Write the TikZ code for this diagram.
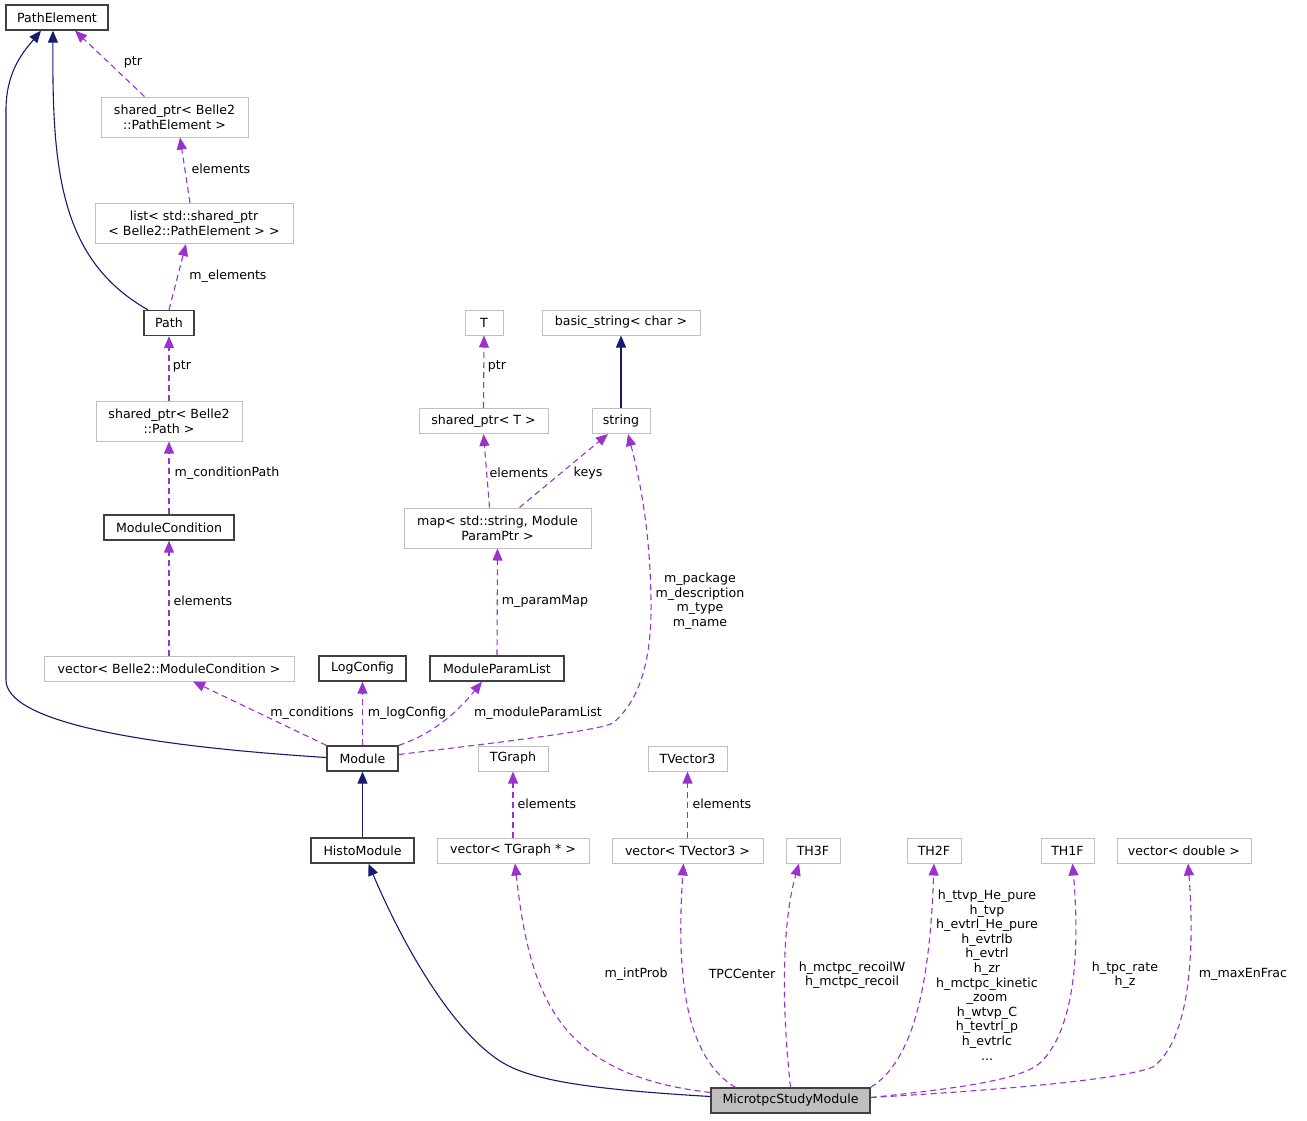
\documentclass[tikz,border=0pt]{standalone}
\usepackage{fontspec}
\setmainfont{DejaVu Sans}
\usetikzlibrary{arrows.meta}
\definecolor{navy}{HTML}{191970}
\definecolor{orch}{HTML}{9A32CD}
\definecolor{gbord}{HTML}{BFBFBF}
\definecolor{dbord}{HTML}{404040}
\begin{document}
\begin{tikzpicture}[x=1pt,y=-1pt,
  every node/.style={font=\fontsize{12.6}{14.6}\selectfont, inner sep=0pt, align=center},
  cls/.style={draw=gbord, line width=1pt, minimum height=25pt},
  clstwo/.style={draw=gbord, line width=1pt, minimum height=40pt},
  doc/.style={draw=dbord, line width=1.3pt, minimum height=25pt},
  inh/.style={draw=navy, line width=1.1pt, -{Triangle[length=12pt,width=10pt]}},
  use/.style={draw=orch, line width=1.1pt, dash pattern=on 6pt off 4pt, -{Triangle[length=12pt,width=10pt]}},
]
\useasboundingbox (0,0) rectangle (1307,1120);
% nodes
\node[doc, minimum width=102pt] (pe) at (57,17.5) {PathElement};
\node[clstwo, minimum width=147pt] (spe) at (174.5,117) {shared\_ptr< Belle2\\::PathElement >};
\node[clstwo, minimum width=198pt] (lst) at (194,223.5) {list< std::shared\_ptr\\< Belle2::PathElement > >};
\node[doc, minimum width=50pt] (path) at (169,323) {Path};
\node[clstwo, minimum width=146pt] (spp) at (169,421) {shared\_ptr< Belle2\\::Path >};
\node[doc, minimum width=130pt] (mc) at (169,527.5) {ModuleCondition};
\node[cls, minimum width=250pt] (vmc) at (169,668.5) {vector< Belle2::ModuleCondition >};
\node[doc, minimum width=87pt] (lc) at (362.5,668.5) {LogConfig};
\node[doc, minimum width=134pt] (mpl) at (497,668.5) {ModuleParamList};
\node[clstwo, minimum width=187pt] (map) at (497.5,528) {map< std::string, Module\\ParamPtr >};
\node[cls, minimum width=129pt] (spt) at (483.5,421) {shared\_ptr< T >};
\node[cls, minimum width=38pt] (T) at (484,322.5) {T};
\node[cls, minimum width=158pt] (bs) at (621,322.5) {basic\_string< char >};
\node[cls, minimum width=58pt] (str) at (621,421) {string};
\node[doc, minimum width=71pt] (mod) at (362.5,758.5) {Module};
\node[cls, minimum width=70pt] (tg) at (513,758.5) {TGraph};
\node[cls, minimum width=79pt] (tv) at (687.5,758.5) {TVector3};
\node[doc, minimum width=103pt] (hm) at (362.5,850.5) {HistoModule};
\node[cls, minimum width=152pt] (vtg) at (513,850.5) {vector< TGraph * >};
\node[cls, minimum width=151pt] (vtv) at (687.5,850.5) {vector< TVector3 >};
\node[cls, minimum width=54pt] (th3) at (813,850.5) {TH3F};
\node[cls, minimum width=54pt] (th2) at (934,850.5) {TH2F};
\node[cls, minimum width=53pt] (th1) at (1067.5,850.5) {TH1F};
\node[cls, minimum width=134pt] (vd) at (1184,850.5) {vector< double >};
\node[doc, fill=gbord, minimum width=159pt] (mic) at (790.5,1100.5) {MicrotpcStudyModule};
% inheritance
\draw[inh] ([xshift=-21pt]path.north) .. controls (60,260) and (52,170) .. ([xshift=-4pt]pe.south);
\draw[inh] ([yshift=1pt]mod.west) .. controls (130,745) and (6,720) .. (6,680) -- (6,110) .. controls (6,70) and (25,50) .. ([xshift=-16pt]pe.south);
\draw[inh] (str.north) -- (bs.south);
\draw[inh] (hm.north) -- (mod.south);
\draw[inh] ([yshift=4pt]mic.west) .. controls (600,1090) and (545,1082) .. (513,1068) .. controls (460,1045) and (405,950) .. ([xshift=6pt]hm.south);
% usage
\draw[use] ([xshift=-30pt]spe.north) -- ([xshift=18pt]pe.south);
\node (l1) at (133,62) {ptr};
\draw[use] ([xshift=-4pt]lst.north) -- ([xshift=5.5pt]spe.south);
\node (l2) at (221,169) {elements};
\draw[use] (path.north) -- ([xshift=-8pt]lst.south);
\node (l3) at (228,276) {m\_elements};
\draw[use] (spp.north) -- (path.south);
\node (l4) at (182,366) {ptr};
\draw[use] (mc.north) -- (spp.south);
\node (l5) at (227,473) {m\_conditionPath};
\draw[use] (vmc.north) -- (mc.south);
\node (l6) at (203,601) {elements};
\draw[use] (mod.north west) -- ([xshift=24pt]vmc.south);
\node (l7) at (312,713) {m\_conditions};
\draw[use] (mod.north) -- (lc.south);
\node (l8) at (407,713) {m\_logConfig};
\draw[use] (mod.north east) .. controls (430,735) and (455,715) .. ([xshift=-15pt]mpl.south);
\node (l9) at (538,713) {m\_moduleParamList};
\draw[use] (mpl.north) -- (map.south);
\node (l10) at (545,601) {m\_paramMap};
\draw[use] ([xshift=-8pt]map.north) -- (spt.south);
\node (l11) at (519,473) {elements};
\draw[use] ([xshift=22pt]map.north) -- ([xshift=-13pt]str.south);
\node (l12) at (588,473) {keys};
\draw[use] (spt.north) -- (T.south);
\node (l13) at (497,366) {ptr};
\draw[use] ([yshift=4pt]mod.east) .. controls (520,740) and (600,730) .. (613,723) .. controls (640,700) and (652,660) .. (651,600) .. controls (650,530) and (640,480) .. ([xshift=7pt]str.south);
\node (l14) at (700,601) {m\_package\\m\_description\\m\_type\\m\_name};
\draw[use] (vtg.north) -- (tg.south);
\node (l15) at (547,804) {elements};
\draw[use] (vtv.north) -- (tv.south);
\node (l16) at (722,804) {elements};
\draw[use] ([yshift=8pt]mic.west) .. controls (560,1075) and (530,1000) .. ([xshift=2pt]vtg.south);
\node (l17) at (636,974) {m\_intProb};
\draw[use] ([xshift=-55pt]mic.north) .. controls (690,1060) and (675,990) .. ([xshift=-4pt]vtv.south);
\node (l18) at (742,974) {TPCCenter};
\draw[use] (mic.north) .. controls (783,1020) and (780,930) .. ([xshift=-14pt]th3.south);
\node (l19) at (852,975) {h\_mctpc\_recoilW\\h\_mctpc\_recoil};
\draw[use] (mic.north east) .. controls (915,1060) and (930,980) .. (th2.south);
\node (l20) at (987,975) {h\_ttvp\_He\_pure\\h\_tvp\\h\_evtrl\_He\_pure\\h\_evtrlb\\h\_evtrl\\h\_zr\\h\_mctpc\_kinetic\\\_zoom\\h\_wtvp\_C\\h\_tevtrl\_p\\h\_evtrlc\\...};
\draw[use] ([yshift=3pt]mic.east) .. controls (960,1088) and (1020,1080) .. (1040,1063) .. controls (1075,1030) and (1080,950) .. ([xshift=5pt]th1.south);
\node (l21) at (1125,975) {h\_tpc\_rate\\h\_z};
\draw[use] ([yshift=3pt]mic.east) .. controls (1000,1090) and (1120,1080) .. (1153,1067) .. controls (1190,1040) and (1195,950) .. ([xshift=4pt]vd.south);
\node (l22) at (1243,974) {m\_maxEnFrac};
\end{tikzpicture}
\end{document}
